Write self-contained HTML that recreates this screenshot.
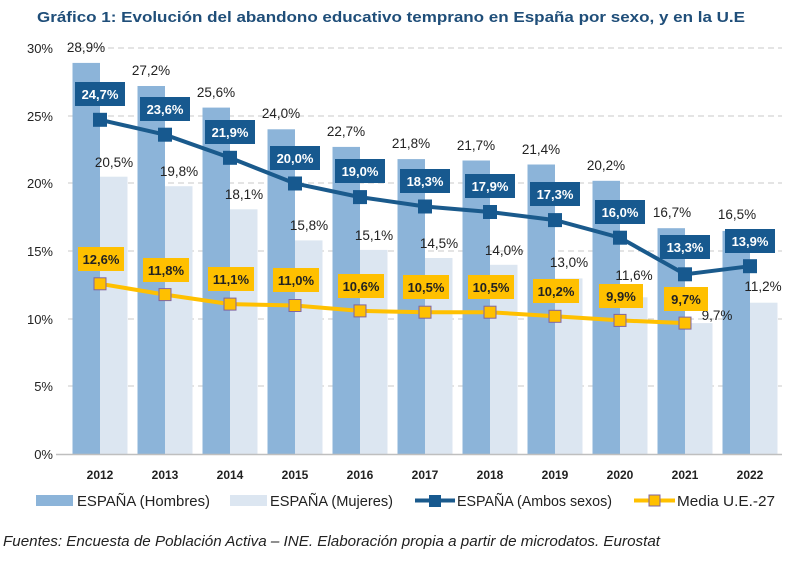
<!DOCTYPE html>
<html><head><meta charset="utf-8"><style>
body{margin:0;background:#fff;width:800px;height:558px;overflow:hidden}
svg text{font-family:"Liberation Sans",sans-serif}
</style></head><body>
<svg width="800" height="558" viewBox="0 0 800 558" xmlns="http://www.w3.org/2000/svg">
<text x="37" y="22" font-size="15" font-weight="bold" fill="#1f4e79" textLength="708" lengthAdjust="spacingAndGlyphs">Gráfico 1: Evolución del abandono educativo temprano en España por sexo, y en la U.E</text>
<g stroke="#c8c8c8" stroke-dasharray="6,4" stroke-width="1">
<line x1="68" x2="782" y1="48" y2="48"/><line x1="68" x2="782" y1="116" y2="116"/><line x1="68" x2="782" y1="183" y2="183"/><line x1="68" x2="782" y1="251" y2="251"/><line x1="68" x2="782" y1="319" y2="319"/><line x1="68" x2="782" y1="386" y2="386"/>
</g>
<g font-size="13" fill="#222" text-anchor="end">
<text x="53" y="53">30%</text><text x="53" y="121">25%</text><text x="53" y="188">20%</text><text x="53" y="256">15%</text><text x="53" y="324">10%</text><text x="53" y="391">5%</text><text x="53" y="459">0%</text>
</g>
<g fill="#8cb4d9">
<rect x="72.5" y="62.9" width="27.5" height="391.6"/><rect x="137.5" y="86" width="27.5" height="368.5"/><rect x="202.5" y="107.6" width="27.5" height="346.9"/><rect x="267.5" y="129.3" width="27.5" height="325.2"/><rect x="332.5" y="146.9" width="27.5" height="307.6"/><rect x="397.5" y="159.1" width="27.5" height="295.4"/><rect x="462.5" y="160.5" width="27.5" height="294"/><rect x="527.5" y="164.5" width="27.5" height="290"/><rect x="592.5" y="180.8" width="27.5" height="273.7"/><rect x="657.5" y="228.2" width="27.5" height="226.3"/><rect x="722.5" y="230.9" width="27.5" height="223.6"/>
</g>
<g fill="#dce6f1">
<rect x="100" y="176.7" width="27.5" height="277.8"/><rect x="165" y="186.2" width="27.5" height="268.3"/><rect x="230" y="209.3" width="27.5" height="245.2"/><rect x="295" y="240.4" width="27.5" height="214.1"/><rect x="360" y="249.9" width="27.5" height="204.6"/><rect x="425" y="258" width="27.5" height="196.5"/><rect x="490" y="264.8" width="27.5" height="189.7"/><rect x="555" y="278.4" width="27.5" height="176.1"/><rect x="620" y="297.3" width="27.5" height="157.2"/><rect x="685" y="323.1" width="27.5" height="131.4"/><rect x="750" y="302.7" width="27.5" height="151.8"/>
</g>
<line x1="56" x2="782" y1="454.5" y2="454.5" stroke="#bfbfbf" stroke-width="1.5"/>
<g font-size="13.5" fill="#222" text-anchor="middle">
<text x="86" y="52">28,9%</text><text x="151" y="75">27,2%</text><text x="216" y="97">25,6%</text><text x="281" y="118">24,0%</text><text x="346" y="136">22,7%</text><text x="411" y="148">21,8%</text><text x="476" y="150">21,7%</text><text x="541" y="154">21,4%</text><text x="606" y="170">20,2%</text><text x="672" y="217">16,7%</text><text x="737" y="219">16,5%</text>
<text x="114" y="167">20,5%</text><text x="179" y="176">19,8%</text><text x="244" y="199">18,1%</text><text x="309" y="230">15,8%</text><text x="374" y="240">15,1%</text><text x="439" y="248">14,5%</text><text x="504" y="255">14,0%</text><text x="569" y="267">13,0%</text><text x="634" y="280">11,6%</text><text x="717" y="320">9,7%</text><text x="763" y="291">11,2%</text>
</g>
<polyline fill="none" stroke="#1a5a8c" stroke-width="4" points="100,119.8 165,134.7 230,157.8 295,183.5 360,197.1 425,206.5 490,212 555,220.1 620,237.7 685,274.3 750,266.2"/>
<g fill="#17598f">
<rect x="93" y="112.8" width="14" height="14"/><rect x="158" y="127.7" width="14" height="14"/><rect x="223" y="150.8" width="14" height="14"/><rect x="288" y="176.5" width="14" height="14"/><rect x="353" y="190.1" width="14" height="14"/><rect x="418" y="199.5" width="14" height="14"/><rect x="483" y="205" width="14" height="14"/><rect x="548" y="213.1" width="14" height="14"/><rect x="613" y="230.7" width="14" height="14"/><rect x="678" y="267.3" width="14" height="14"/><rect x="743" y="259.2" width="14" height="14"/>
<rect x="75" y="82" width="50" height="24"/><rect x="140" y="97" width="50" height="24"/><rect x="205" y="120" width="50" height="24"/><rect x="270" y="146" width="50" height="24"/><rect x="335" y="159" width="50" height="24"/><rect x="400" y="169" width="50" height="24"/><rect x="465" y="174" width="50" height="24"/><rect x="530" y="182" width="50" height="24"/><rect x="595" y="200" width="50" height="24"/><rect x="660" y="235" width="50" height="24"/><rect x="725" y="229" width="50" height="24"/>
</g>
<g font-size="13" font-weight="bold" fill="#fff" text-anchor="middle">
<text x="100" y="99">24,7%</text><text x="165" y="114">23,6%</text><text x="230" y="137">21,9%</text><text x="295" y="163">20,0%</text><text x="360" y="176">19,0%</text><text x="425" y="186">18,3%</text><text x="490" y="191">17,9%</text><text x="555" y="199">17,3%</text><text x="620" y="217">16,0%</text><text x="685" y="252">13,3%</text><text x="750" y="246">13,9%</text>
</g>
<polyline fill="none" stroke="#ffc000" stroke-width="4" points="100,283.8 165,294.6 230,304.1 295,305.5 360,310.9 425,312.2 490,312.2 555,316.3 620,320.4 685,323.1"/>
<g fill="#ffc000">
<rect x="78" y="247" width="46" height="24"/><rect x="143" y="258" width="46" height="24"/><rect x="208" y="267" width="46" height="24"/><rect x="273" y="268" width="46" height="24"/><rect x="338" y="274" width="46" height="24"/><rect x="403" y="275" width="46" height="24"/><rect x="468" y="275" width="46" height="24"/><rect x="533" y="279" width="46" height="24"/><rect x="599" y="284" width="44" height="24"/><rect x="664" y="287" width="44" height="24"/>
</g>
<g fill="#ffc000" stroke="#8064a2" stroke-width="1">
<rect x="94" y="277.8" width="12" height="12"/><rect x="159" y="288.6" width="12" height="12"/><rect x="224" y="298.1" width="12" height="12"/><rect x="289" y="299.5" width="12" height="12"/><rect x="354" y="304.9" width="12" height="12"/><rect x="419" y="306.2" width="12" height="12"/><rect x="484" y="306.2" width="12" height="12"/><rect x="549" y="310.3" width="12" height="12"/><rect x="614" y="314.4" width="12" height="12"/><rect x="679" y="317.1" width="12" height="12"/>
</g>
<g font-size="13" font-weight="bold" fill="#222" text-anchor="middle">
<text x="101" y="264">12,6%</text><text x="166" y="275">11,8%</text><text x="231" y="284">11,1%</text><text x="296" y="285">11,0%</text><text x="361" y="291">10,6%</text><text x="426" y="292">10,5%</text><text x="491" y="292">10,5%</text><text x="556" y="296">10,2%</text><text x="621" y="301">9,9%</text><text x="686" y="304">9,7%</text>
</g>
<g font-size="12" font-weight="bold" fill="#222" text-anchor="middle">
<text x="100" y="479">2012</text><text x="165" y="479">2013</text><text x="230" y="479">2014</text><text x="295" y="479">2015</text><text x="360" y="479">2016</text><text x="425" y="479">2017</text><text x="490" y="479">2018</text><text x="555" y="479">2019</text><text x="620" y="479">2020</text><text x="685" y="479">2021</text><text x="750" y="479">2022</text>
</g>
<rect x="36" y="495" width="37" height="11" fill="#8cb4d9"/>
<rect x="230" y="495" width="37" height="11" fill="#dce6f1"/>
<line x1="415" x2="455" y1="500.5" y2="500.5" stroke="#1a5a8c" stroke-width="4"/><rect x="429" y="495" width="12" height="12" fill="#17598f"/>
<line x1="634" x2="675" y1="500.5" y2="500.5" stroke="#ffc000" stroke-width="4"/><rect x="649" y="495" width="11" height="11" fill="#ffc000" stroke="#8064a2"/>
<g font-size="15" fill="#222">
<text x="77" y="506" textLength="133" lengthAdjust="spacingAndGlyphs">ESPAÑA (Hombres)</text><text x="270" y="506" textLength="123" lengthAdjust="spacingAndGlyphs">ESPAÑA (Mujeres)</text><text x="457" y="506" textLength="155" lengthAdjust="spacingAndGlyphs">ESPAÑA (Ambos sexos)</text><text x="677" y="506" textLength="98" lengthAdjust="spacingAndGlyphs">Media U.E.-27</text>
</g>
<text x="3" y="546" font-size="14.5" font-style="italic" fill="#222" textLength="657" lengthAdjust="spacingAndGlyphs">Fuentes: Encuesta de Población Activa – INE. Elaboración propia a partir de microdatos. Eurostat</text>
</svg>
</body></html>
